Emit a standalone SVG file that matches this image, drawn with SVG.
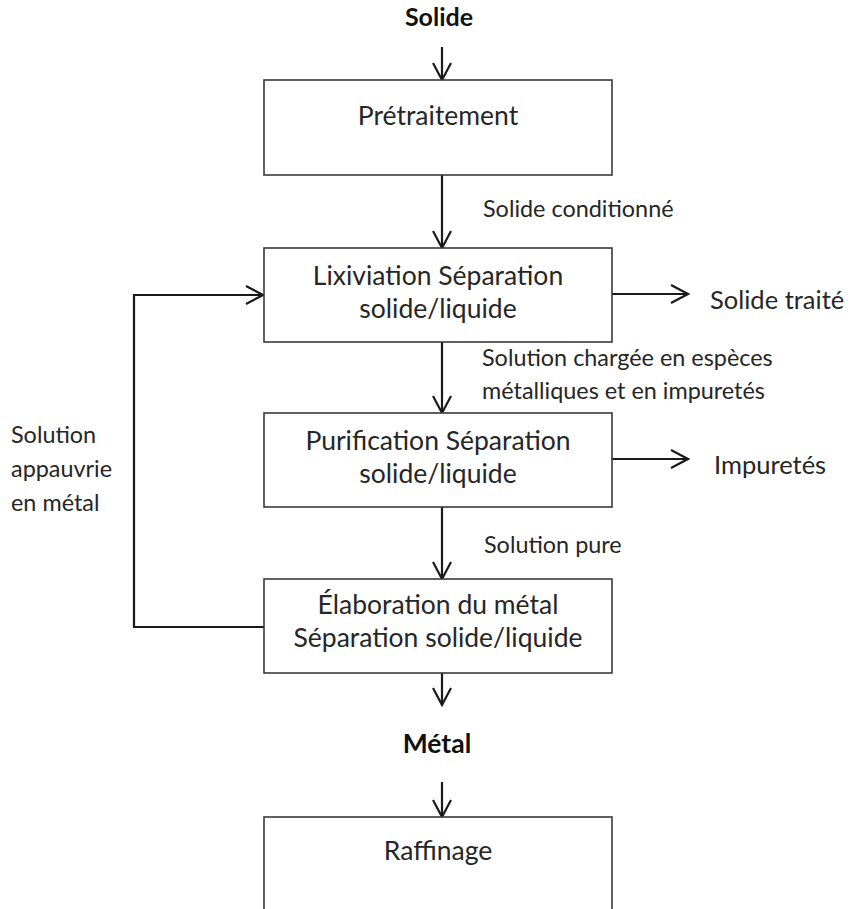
<svg xmlns="http://www.w3.org/2000/svg" width="850" height="909" viewBox="0 0 850 909">
<style>
text{font-family:Lato,"Open Sans","Liberation Sans",sans-serif;font-size:26.5px;fill:#262626}
.c{text-anchor:middle}
.l{font-size:23.4px}
.o{font-size:25.5px}
.b{font-weight:bold;fill:#111;font-size:25px}
.box{fill:#fff;stroke:#3a3a3a;stroke-width:1.6}
.ln{fill:none;stroke:#1a1a1a;stroke-width:2.2}
</style>
<defs>
<marker id="ah" viewBox="-1 -1 20 20" refX="17" refY="9" markerWidth="20" markerHeight="20" markerUnits="userSpaceOnUse" orient="auto">
<path d="M0,0 L17,9 L0,18" fill="none" stroke="#1a1a1a" stroke-width="2.2"/>
</marker>
</defs>
<rect width="850" height="909" fill="#fff"/>
<g id="connectors">
<line class="ln" x1="442" y1="47" x2="442" y2="80" marker-end="url(#ah)"/>
<line class="ln" x1="442" y1="175" x2="442" y2="248" marker-end="url(#ah)"/>
<line class="ln" x1="442" y1="342" x2="442" y2="413" marker-end="url(#ah)"/>
<line class="ln" x1="442" y1="507" x2="442" y2="579" marker-end="url(#ah)"/>
<line class="ln" x1="442" y1="673" x2="442" y2="705" marker-end="url(#ah)"/>
<line class="ln" x1="442" y1="782" x2="442" y2="817" marker-end="url(#ah)"/>
<line class="ln" x1="612" y1="294" x2="688" y2="294" marker-end="url(#ah)"/>
<line class="ln" x1="612" y1="459" x2="688" y2="459" marker-end="url(#ah)"/>
<polyline class="ln" points="264,627 134,627 134,295 263,295" marker-end="url(#ah)"/>
</g>
<g id="solide"><text class="c b" x="439" y="26">Solide</text></g>
<g id="pretraitement">
<rect class="box" x="264" y="80" width="348" height="95"/>
<text class="c" x="438" y="125">Prétraitement</text>
</g>
<g id="lbl-conditionne"><text class="l" x="483" y="217">Solide conditionné</text></g>
<g id="lixiviation">
<rect class="box" x="264" y="248" width="348" height="94"/>
<text class="c" x="438" y="285">Lixiviation Séparation</text>
<text class="c" x="438" y="318">solide/liquide</text>
</g>
<g id="solide-traite"><text class="o" x="710" y="309">Solide traité</text></g>
<g id="lbl-chargee">
<text class="l" x="482" y="366">Solution chargée en espèces</text>
<text class="l" x="482" y="399">métalliques et en impuretés</text>
</g>
<g id="purification">
<rect class="box" x="264" y="413" width="348" height="94"/>
<text class="c" x="438" y="450">Purification Séparation</text>
<text class="c" x="438" y="483">solide/liquide</text>
</g>
<g id="impuretes"><text class="o" x="714" y="474">Impuretés</text></g>
<g id="lbl-pure"><text class="l" x="484" y="553">Solution pure</text></g>
<g id="lbl-appauvrie">
<text class="l" x="11" y="443">Solution</text>
<text class="l" x="11" y="477">appauvrie</text>
<text class="l" x="11" y="511">en métal</text>
</g>
<g id="elaboration">
<rect class="box" x="264" y="579" width="348" height="94"/>
<text class="c" x="438" y="614">Élaboration du métal</text>
<text class="c" x="438" y="647">Séparation solide/liquide</text>
</g>
<g id="metal"><text class="c b" x="437" y="753" style="font-size:26.5px">Métal</text></g>
<g id="raffinage">
<rect class="box" x="264" y="817" width="348" height="120"/>
<text class="c" x="438" y="860">Raffinage</text>
</g>
</svg>
